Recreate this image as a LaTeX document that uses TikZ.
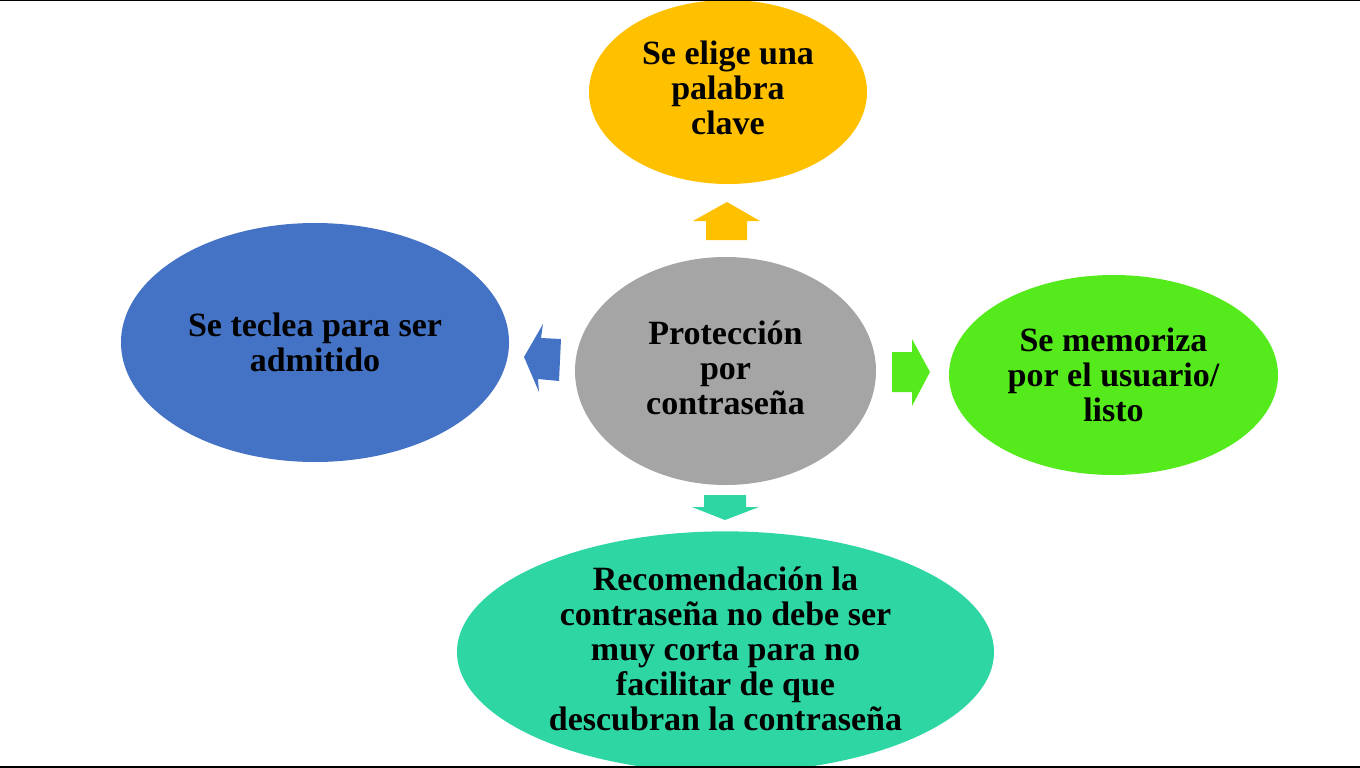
\documentclass[tikz,border=0pt]{standalone}
\usepackage{fontspec}
\setmainfont{Liberation Serif}
\usetikzlibrary{shapes.geometric}
\definecolor{gristono}{RGB}{165,165,165}
\definecolor{amarillo}{RGB}{255,192,0}
\definecolor{azul}{RGB}{68,114,196}
\definecolor{verde}{RGB}{85,234,28}
\definecolor{turquesa}{RGB}{46,214,163}
\begin{document}
\begin{tikzpicture}[x=1pt,y=-1pt]

%
% Styles
%
\tikzstyle{globo} = [ellipse,inner sep=0pt,align=center,font=\bfseries\fontsize{34}{35}\selectfont]

\useasboundingbox (0,0) rectangle (1360,768);

\node[globo,fill=gristono,minimum width=301,minimum height=228,text depth=7pt] (prot) at (725.5,371) {Protección\\por\\contraseña};
\node[globo,fill=amarillo,minimum width=278,minimum height=184,text depth=9pt] (clave) at (728,92) {Se elige una\\palabra\\clave};
\node[globo,fill=azul,minimum width=388,minimum height=239] (teclea) at (315,342.5) {Se teclea para ser\\admitido};
\node[globo,fill=verde,minimum width=329,minimum height=200] (memo) at (1113.5,375) {Se memoriza\\por el usuario/\\listo};
\node[globo,fill=turquesa,minimum width=537,minimum height=240,text depth=7pt] (recom) at (725.5,652) {Recomendación la\\contraseña no debe ser\\muy corta para no\\facilitar de que\\descubran la contraseña};

\fill[amarillo] (706,240) -- (706,221) -- (693,221) -- (727,202) -- (760,221) -- (747,221) -- (747,240) -- cycle;
\fill[verde] (892,352) -- (912,352) -- (912,339) -- (930,372) -- (912,406) -- (912,392) -- (892,392) -- cycle;
\fill[turquesa] (704,495) -- (746,495) -- (746,507) -- (759,507) -- (725,520) -- (692,507) -- (704,507) -- cycle;
\fill[azul] (561,339) -- (541,338) -- (543,324) -- (524,357) -- (539,392) -- (538,379) -- (559,381) -- cycle;

\draw[line width=1.5] (0,0.75) -- (1360,0.75);
\draw[line width=2] (0,767) -- (1360,767);

\end{tikzpicture}
\end{document}
